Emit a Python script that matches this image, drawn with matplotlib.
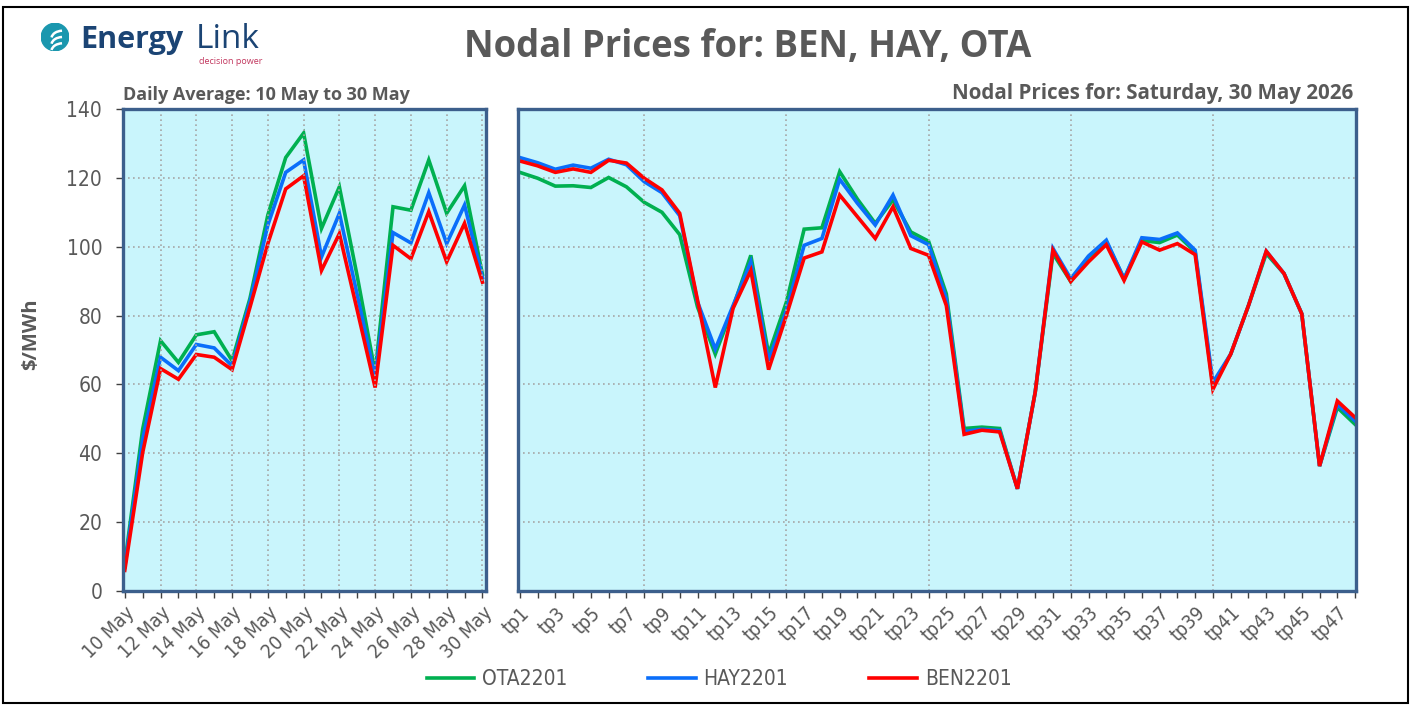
import numpy as np
import matplotlib.pyplot as plt
from matplotlib.patches import Rectangle, Circle, Arc

# -------------------------
# Data
# -------------------------

days = ['10 May', '11 May', '12 May', '13 May', '14 May', '15 May', '16 May',
        '17 May', '18 May', '19 May', '20 May', '21 May', '22 May', '23 May',
        '24 May', '25 May', '26 May', '27 May', '28 May', '29 May', '30 May']

ota_daily = [8, 47, 72.7, 66.4, 74.4, 75.3, 66.9, 85, 109.2, 125.9, 133, 105.3, 117.4,
             91.4, 63.5, 111.6, 110.6, 125.2, 109.7, 117.7, 92]
hay_daily = [7, 44, 67.9, 64, 71.6, 70.6, 65.4, 84, 106.3, 121.6, 125.2, 97, 109.7,
             86, 62, 104.1, 101.1, 115.7, 100.9, 112.1, 91]
ben_daily = [6, 40.2, 64.6, 61.5, 68.7, 67.9, 64.3, 82.4, 100.9, 116.8, 120.6, 93.1, 103.8,
             81.5, 59.1, 100.4, 96.5, 110.2, 95.6, 106.8, 89.7]

periods = ['tp%d' % i for i in range(1, 49)]

ota_tp = [121.6, 119.9, 117.6, 117.7, 117.2, 120.1, 117.4, 112.9, 110, 103.5,
          82.5, 68.8, 82.4, 97.5, 68.8, 83.9, 105.1, 105.5, 121.8, 113.8,
          106.8, 113.6, 104.3, 101.6, 86.3, 47.2, 47.6, 47.2, 29.7, 57.7,
          98, 89.9, 97, 101.5, 90.7, 101.8, 101.2, 103.4, 98.5, 59.6,
          68.8, 82.9, 98, 92.2, 80.5, 36.3, 53.3, 48.4]
hay_tp = [125.9, 124.4, 122.5, 123.7, 122.8, 125.4, 123.8, 118.9, 115.7, 109,
          84, 70.3, 82.9, 95.6, 66.9, 81.5, 100.4, 102.4, 119.6, 112.6,
          106.3, 115, 103.2, 100.6, 84.9, 46.3, 47, 46.6, 29.7, 57.7,
          99.5, 90.7, 97.3, 101.9, 90.7, 102.6, 102.1, 104, 99, 60.6,
          68.8, 82.9, 98.7, 92.2, 80.5, 36.3, 54.2, 49.4]
ben_tp = [124.9, 123.5, 121.6, 122.6, 121.6, 125.1, 124.3, 119.9, 116.5, 109.7,
          84.5, 59.1, 82.1, 93.1, 64.3, 80, 96.7, 98.5, 115, 108.7,
          102.4, 111.6, 99.5, 97.5, 82.9, 45.5, 46.7, 46.2, 29.7, 57.7,
          99, 89.9, 95.6, 100.6, 90.2, 101.4, 99, 100.9, 97.7, 58.6,
          68.8, 82.9, 98.7, 92.2, 80.5, 36.3, 55.2, 50.4]

series_names = ['OTA2201', 'HAY2201', 'BEN2201']
series_colors = ['#00B050', '#0A6EFA', '#FF0000']

# -------------------------
# Style
# -------------------------

narrow = ['Liberation Sans Narrow', 'DejaVu Sans']
bold_font = ['Open Sans', 'DejaVu Sans']
grey = '#595959'
frame_col = '#3C5F8C'
face_col = '#C9F5FC'

W, H = 1413, 706
fig = plt.figure(figsize=(W / 100, H / 100), dpi=100)


def fx(px):
    return px / W


def fy(py):
    return 1 - py / H


# outer border
fig.patches.append(Rectangle((fx(3), fy(703)), fx(1405), fy(7) - fy(703),
                             transform=fig.transFigure, fill=False,
                             edgecolor='black', linewidth=1.5))


def style_axes(ax, n, labels, vgrid):
    ax.set_facecolor(face_col)
    ax.set_ylim(0, 140)
    ax.set_yticks(range(0, 141, 20))
    ax.grid(axis='y', color='#A6A6A6', linestyle=(0, (1, 2)), linewidth=1.2)
    ax.vlines(vgrid, 0, 140, colors='#A6A6A6', linestyles=(0, (1, 2)), linewidth=1.2)
    ax.set_xticks(range(n))
    ax.set_xticklabels([lab if i % 2 == 0 else '' for i, lab in enumerate(labels)],
                       rotation=45, ha='right', rotation_mode='anchor',
                       family=narrow, fontstretch='condensed', fontsize=14, color=grey)
    ax.tick_params(axis='x', direction='out', length=5, width=1, color='#404040', pad=4)
    for s in ax.spines.values():
        s.set_color(frame_col)
        s.set_linewidth(2.4)
    ax.set_axisbelow(True)


# -------------------------
# Left panel: daily average
# -------------------------

ax1 = fig.add_axes([fx(123), fy(591), fx(486) - fx(123), fy(109) - fy(591)])
x1 = np.arange(len(days))
for vals, name, col in zip([ota_daily, hay_daily, ben_daily], series_names, series_colors):
    ax1.plot(x1, vals, color=col, linewidth=2.6, label=name, solid_joinstyle='miter')
ax1.set_xlim(-0.1, len(days) - 0.8)
style_axes(ax1, len(days), days, range(2, 21, 2))
ax1.set_yticklabels([str(v) for v in range(0, 141, 20)], family=narrow,
                    fontstretch='condensed', fontsize=15, color=grey)
ax1.tick_params(axis='y', direction='out', length=5, width=1, color='#404040', pad=10)

fig.text(fx(31), fy(334), '$/MWh', rotation=90, ha='center', va='center',
         family=bold_font, fontweight='bold', fontsize=14.5, color=grey)

# -------------------------
# Right panel: trading periods
# -------------------------

ax2 = fig.add_axes([fx(518), fy(591), fx(1356) - fx(518), fy(109) - fy(591)])
x2 = np.arange(len(periods))
for vals, name, col in zip([ota_tp, hay_tp, ben_tp], series_names, series_colors):
    ax2.plot(x2, vals, color=col, linewidth=2.6, label=name, solid_joinstyle='miter')
ax2.set_xlim(-0.1, len(periods) - 0.95)
style_axes(ax2, len(periods), periods, range(7, 47, 8))
ax2.tick_params(axis='y', left=False, labelleft=False)

# -------------------------
# Texts
# -------------------------

fig.text(fx(748), fy(47), 'Nodal Prices for: BEN, HAY, OTA', ha='center', va='center',
         family=bold_font, fontweight='bold', fontsize=26.3, color=grey)
fig.text(fx(123), fy(95), 'Daily Average: 10 May to 30 May', ha='left', va='center',
         family=bold_font, fontweight='bold', fontsize=13, color=grey)
fig.text(fx(1353), fy(94), 'Nodal Prices for: Saturday, 30 May 2026', ha='right',
         va='center', family=bold_font, fontweight='bold', fontsize=14.8, color=grey)

# logo
lax = fig.add_axes([fx(41), fy(51), fx(28), fy(23) - fy(51)])
lax.set_xlim(-1, 1)
lax.set_ylim(-1, 1)
lax.set_aspect('equal')
lax.axis('off')
lax.add_patch(Circle((0, 0), 0.98, color='#1A97AE'))
for dy in (-0.45, 0.0, 0.45):
    lax.add_patch(Arc((0.55, dy - 0.55), 1.6, 1.1, theta1=95, theta2=175,
                      color='white', linewidth=1.8))
fig.text(fx(80), fy(40), 'Energy', ha='left', va='center', family=bold_font,
         fontweight='bold', fontsize=22, color='#1B4474')
fig.text(fx(196), fy(40), 'Link', ha='left', va='center', family=bold_font,
         fontsize=24, color='#1B4474')
fig.text(fx(262), fy(62), 'decision power', ha='right', va='center',
         family=['Open Sans', 'DejaVu Sans'], fontsize=6.5, color='#C2375E')

# legend
handles, labels = ax2.get_legend_handles_labels()
leg = fig.legend(handles, labels, loc='center', bbox_to_anchor=(fx(719), fy(679)),
                 ncol=3, frameon=False, handlelength=2.3, handletextpad=0.35,
                 columnspacing=3.9,
                 prop={'family': narrow, 'stretch': 'condensed', 'size': 15})
for t in leg.get_texts():
    t.set_color(grey)

plt.savefig('out.png', dpi=100)
